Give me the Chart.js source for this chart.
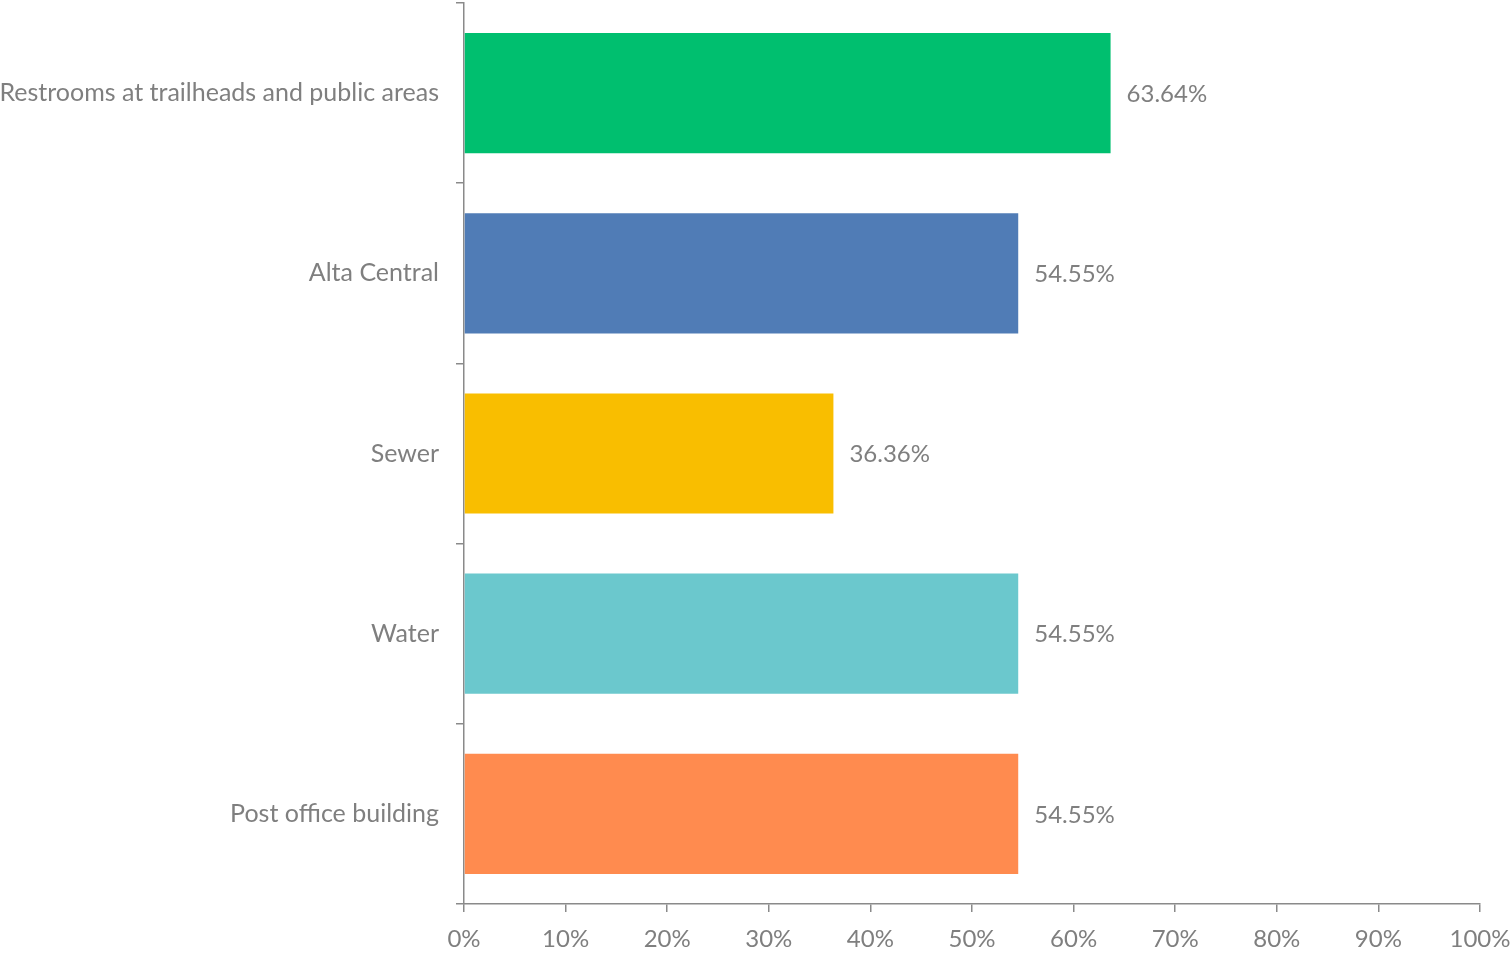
<!DOCTYPE html>
<html>
<head>
<meta charset="utf-8">
<script src="https://cdn.jsdelivr.net/npm/chart.js@4/dist/chart.umd.min.js"></script>
<style>
  html, body { margin: 0; padding: 0; background: #fff; }
  #wrap { width: 1511px; height: 953px; position: relative; }
</style>
</head>
<body>
<div id="wrap"><canvas id="barchart"></canvas></div>
<script>
const categories = [
    "Restrooms at trailheads and public areas",
    "Alta Central",
    "Sewer",
    "Water",
    "Post office building",
];
const percentValues = [63.64, 54.55, 36.36, 54.55, 54.55];
const barColors = ["#00BF6F", "#507CB6", "#F9BE00", "#6BC8CD", "#FF8B4F"];
const tickValues = [0, 10, 20, 30, 40, 50, 60, 70, 80, 90, 100];

const textColor = "#7f7f7f";
const axisColor = "#8a8a8a";
const fontFamily = "Lato, 'Open Sans', sans-serif";

// draws "63.64%" right of each bar
const valueLabels = {
    id: "valueLabels",
    afterDatasetsDraw(chart) {
        const ctx = chart.ctx;
        const meta = chart.getDatasetMeta(0);
        ctx.save();
        ctx.font = "24px " + fontFamily;
        ctx.fillStyle = textColor;
        ctx.textAlign = "left";
        ctx.textBaseline = "middle";
        meta.data.forEach((bar, i) => {
            ctx.fillText(percentValues[i].toFixed(2) + "%", bar.x + 16, bar.y + 1);
        });
        ctx.restore();
    },
};

const ctx = document.getElementById("barchart").getContext("2d");
const chart = new Chart(ctx, {
    type: "bar",
    data: {
        labels: categories,
        datasets: [
            {
                data: percentValues,
                backgroundColor: barColors,
                barPercentage: 0.667,
                categoryPercentage: 1,
            },
        ],
    },
    options: {
        indexAxis: "y",
        responsive: true,
        maintainAspectRatio: false,
        animation: false,
        layout: { padding: { top: 3, right: 31, left: 0, bottom: 0 } },
        plugins: {
            legend: { display: false },
            tooltip: { enabled: false },
        },
        scales: {
            x: {
                min: 0,
                max: 100,
                afterBuildTicks: (scale) => {
                    scale.ticks = tickValues.map((v) => ({ value: v }));
                },
                afterFit: (scale) => {
                    scale.height = 49;
                    scale.paddingLeft = 0;
                    scale.paddingRight = 0;
                },
                border: { display: true, color: axisColor, width: 1.5 },
                grid: {
                    drawOnChartArea: false,
                    drawTicks: true,
                    tickLength: 8,
                    color: axisColor,
                    lineWidth: 1.5,
                },
                ticks: {
                    padding: 13,
                    color: textColor,
                    font: { family: fontFamily, size: 24 },
                    maxRotation: 0,
                    callback: (v) => v + "%",
                },
            },
            y: {
                afterFit: (scale) => {
                    scale.width = 464;
                    scale.paddingTop = 0;
                    scale.paddingBottom = 0;
                },
                border: { display: true, color: axisColor, width: 1.5 },
                grid: {
                    drawOnChartArea: false,
                    drawTicks: true,
                    tickLength: 8,
                    color: axisColor,
                    lineWidth: 1.5,
                    offset: true,
                },
                ticks: {
                    padding: 17,
                    color: textColor,
                    font: { family: fontFamily, size: 25 },
                },
            },
        },
    },
    plugins: [valueLabels],
});
</script>
</body>
</html>
